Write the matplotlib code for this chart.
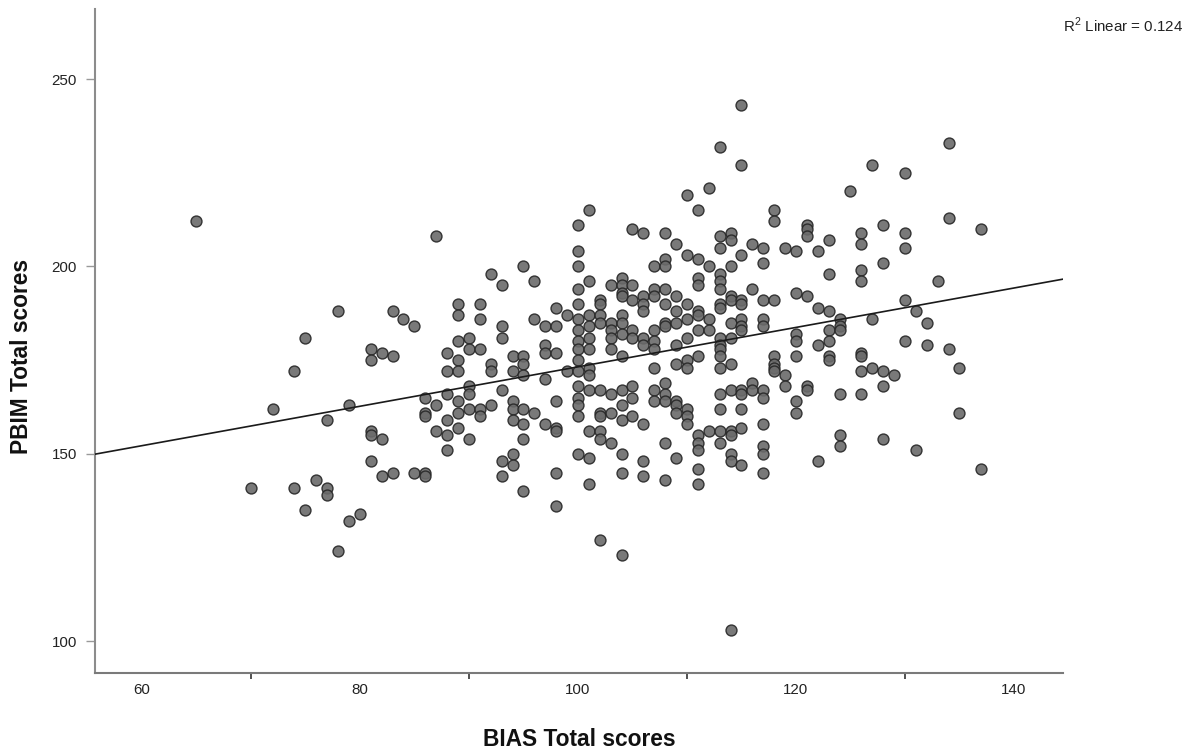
import matplotlib
matplotlib.use("Agg")
import matplotlib.pyplot as plt
from matplotlib import font_manager
import numpy as np

# Data, grouped by BIAS total score (x)
bias_scores = [65, 70, 72, 74, 75, 76, 77, 78, 79, 80, 81, 82, 83, 84, 85, 86, 87, 88, 89, 90,
               91, 92, 93, 94, 95, 96, 97, 98, 99, 100, 101, 102, 103, 104, 105, 106, 107, 108,
               109, 110, 111, 112, 113, 114, 115, 116, 117, 118, 119, 120, 121, 122, 123, 124,
               125, 126, 127, 128, 129, 130, 131, 132, 133, 134, 135, 137]
pbim_by_bias = [
    [212],
    [141],
    [162],
    [172, 141],
    [181, 135],
    [143],
    [159, 141, 139],
    [188, 124],
    [163, 132],
    [134],
    [178, 175, 156, 155, 148],
    [177, 154, 144],
    [188, 176, 145],
    [186],
    [184, 145],
    [165, 161, 160, 145, 144],
    [208, 163, 156],
    [177, 172, 166, 159, 155, 151],
    [190, 187, 180, 175, 172, 164, 161, 157],
    [181, 178, 168, 166, 162, 154],
    [190, 186, 178, 162, 160],
    [198, 174, 172, 163],
    [195, 184, 181, 167, 148, 144],
    [176, 172, 164, 162, 159, 150, 147],
    [200, 176, 174, 171, 162, 158, 154, 140],
    [196, 186, 161],
    [184, 179, 177, 170, 158],
    [189, 184, 177, 164, 157, 156, 145, 136],
    [187, 172],
    [211, 204, 200, 194, 190, 186, 183, 180, 178, 175, 172, 168, 165, 163, 160, 150],
    [215, 196, 187, 184, 181, 178, 173, 171, 167, 156, 149, 142],
    [191, 190, 187, 185, 167, 161, 160, 156, 154, 127],
    [195, 185, 183, 181, 178, 166, 161, 153],
    [197, 195, 193, 192, 187, 185, 182, 176, 167, 163, 159, 150, 145, 123],
    [210, 195, 191, 183, 181, 168, 165, 160],
    [209, 192, 190, 188, 181, 179, 158, 148, 144],
    [200, 194, 192, 183, 180, 178, 173, 167, 164],
    [209, 202, 200, 194, 190, 185, 184, 169, 166, 164, 153, 143],
    [206, 192, 188, 185, 179, 174, 164, 163, 161, 149],
    [219, 203, 190, 186, 181, 175, 173, 162, 160, 158],
    [215, 202, 197, 195, 188, 187, 183, 176, 155, 153, 151, 146, 142],
    [221, 200, 186, 183, 156],
    [232, 208, 205, 198, 196, 194, 190, 189, 181, 179, 178, 176, 173, 166, 162, 156, 153],
    [209, 207, 200, 192, 191, 185, 181, 174, 167, 156, 155, 150, 148, 103],
    [243, 227, 203, 191, 190, 186, 184, 183, 167, 166, 162, 157, 147],
    [206, 194, 169, 167],
    [205, 201, 191, 186, 184, 167, 165, 158, 152, 150, 145],
    [215, 212, 191, 176, 174, 173, 172],
    [205, 171, 168],
    [204, 193, 182, 180, 176, 164, 161],
    [211, 210, 208, 192, 168, 167],
    [204, 189, 179, 148],
    [207, 198, 188, 183, 180, 176, 175],
    [186, 184, 183, 166, 155, 152],
    [220],
    [209, 206, 199, 196, 177, 176, 172, 166],
    [227, 186, 173],
    [211, 201, 172, 168, 154],
    [171],
    [225, 209, 205, 191, 180],
    [188, 151],
    [185, 179],
    [196],
    [233, 213, 178],
    [173, 161],
    [210, 146],
]

# Fit line (R2 Linear = 0.124)
fit_intercept = 120.6
fit_slope = 0.526
r2_text = "R$^2$ Linear = 0.124"

x_ticklabels = [60, 80, 100, 120, 140]
x_tickmarks = [70, 90, 110, 130]
y_ticks = [100, 150, 200, 250]
x_limits = (55.7, 144.5)
y_limits = (91.5, 268.7)

xs = [x for x, ys in zip(bias_scores, pbim_by_bias) for _ in ys]
ys = [y for col in pbim_by_bias for y in col]

installed = {f.name for f in font_manager.fontManager.ttflist}
if 'Liberation Sans Narrow' in installed:
    fam = ['Liberation Sans Narrow', 'DejaVu Sans']
    k = 1.0
else:
    fam = ['Liberation Sans', 'DejaVu Sans']
    k = 0.84
plt.rcParams['font.family'] = fam
plt.rcParams['mathtext.fontset'] = 'custom'
plt.rcParams['mathtext.rm'] = fam[0]

fig = plt.figure(figsize=(11.99, 7.56), dpi=100)
ax = fig.add_axes([95 / 1199, 1 - 673 / 756, (1063 - 95) / 1199, (673 - 9) / 756])

ax.scatter(xs, ys, s=62, facecolor='#6b6b6b', edgecolor='#262626', linewidth=1.0,
           alpha=0.9, zorder=3)

lx = np.array(x_limits)
ax.plot(lx, fit_intercept + fit_slope * lx, color='#1a1a1a', linewidth=1.2, zorder=4)

ax.set_xlim(*x_limits)
ax.set_ylim(*y_limits)

# x: labels at even 20s (no marks), marks at the 10s in between
ax.set_xticks(x_ticklabels)
ax.set_xticklabels([str(v) for v in x_ticklabels], fontsize=13 * k, color='#222222')
ax.tick_params(axis='x', which='major', length=0, pad=7)
ax.set_xticks(x_tickmarks, minor=True)
ax.tick_params(axis='x', which='minor', length=4.5, width=1.2, color='#333333', direction='out')

ax.set_yticks(y_ticks)
ax.set_yticklabels([str(v) for v in y_ticks], fontsize=13 * k, color='#222222')
ax.tick_params(axis='y', which='major', length=6.5, width=1.0, color='#999999', pad=6.5)

for s in ['top', 'right']:
    ax.spines[s].set_visible(False)
ax.spines['left'].set_color('#8c8c8c')
ax.spines['left'].set_linewidth(1.5)
ax.spines['bottom'].set_color('#7a7a7a')
ax.spines['bottom'].set_linewidth(1.5)

ax.set_xlabel("BIAS Total scores", fontsize=19.5 * k, fontweight='bold', color='#111111')
ax.set_ylabel("PBIM Total scores", fontsize=19.5 * k, fontweight='bold', color='#111111')
ax.xaxis.set_label_coords(0.5, (673 - 740) / 664)
ax.xaxis.label.set_va('center')
ax.yaxis.set_label_coords((22 - 95) / 968, (673 - 356) / 664)
ax.yaxis.label.set_va('center')
ax.yaxis.label.set_ha('center')

fig.text(1183 / 1199, 1 - 25 / 756, r2_text, fontsize=13 * k, ha='right', va='center',
         color='#222222')

fig.savefig("out.png", dpi=100)
